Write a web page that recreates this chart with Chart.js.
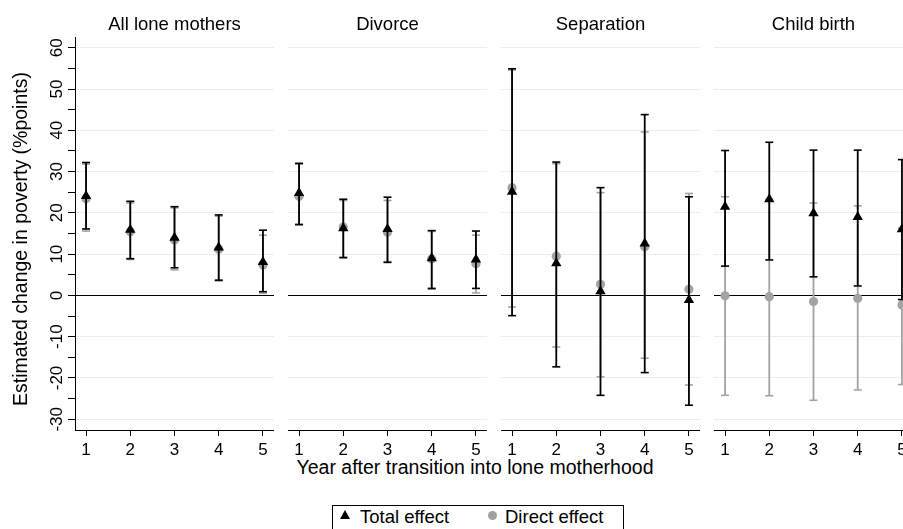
<!DOCTYPE html>
<html>
<head>
<meta charset="utf-8">
<script src="https://cdn.jsdelivr.net/npm/chart.js@4.4.1/dist/chart.umd.min.js"></script>
<style>
    body { margin: 0; width: 903px; height: 529px; overflow: hidden; background: #fff; position: relative;
           font-family: "Liberation Sans", Arial, sans-serif; color: #000; }
    canvas { position: absolute; top: 0; }
    #x-title { position: absolute; left: 225px; width: 500px; top: 457px; text-align: center;
               font-size: 19.5px; line-height: 20px; white-space: nowrap; }
    #legend { position: absolute; left: 332px; top: 505px; width: 290px; height: 40px; border: 1px solid #000; }
    #legend .item { position: absolute; top: 1px; font-size: 18.5px; line-height: 20px; white-space: nowrap; }
    #legend .tri { position: absolute; width: 0; height: 0; border-left: 5.5px solid transparent;
                   border-right: 5.5px solid transparent; border-bottom: 9.5px solid #000; }
    #legend .dot { position: absolute; width: 9px; height: 9px; border-radius: 50%; background: #a0a0a0; }
</style>
</head>
<body>
<div id="x-title">Year after transition into lone motherhood</div>
<div id="legend">
    <div class="tri" style="left:7px;top:4px"></div>
    <div class="item" style="left:27px">Total effect</div>
    <div class="dot" style="left:155px;top:5px"></div>
    <div class="item" style="left:172px">Direct effect</div>
</div>
<script>
// Données
const years = [1, 2, 3, 4, 5];
const panelTitles = ['All lone mothers', 'Divorce', 'Separation', 'Child birth'];
const yLabels = [-30, -20, -10, 0, 10, 20, 30, 40, 50, 60];
const yTickMarks = [-30, -25, -20, -15, -10, -5, 0, 5, 10, 15, 20, 25, 30, 35, 40, 45, 50, 55, 60];
const yTitle = 'Estimated change in poverty (%points)';

// All lone mothers
const allTotal = [24.1, 15.9, 14.0, 11.6, 8.1];
const allTotalLo = [16.1, 8.9, 6.7, 3.7, 0.9];
const allTotalHi = [32.2, 22.8, 21.5, 19.5, 15.8];
const allDirect = [23.4, 15.4, 13.4, 11.2, 7.4];
const allDirectLo = [15.6, 8.7, 6.2, 3.5, 0.5];
const allDirectHi = [31.8, 22.4, 21.2, 19.2, 14.6];

// Divorce
const divTotal = [24.8, 16.3, 16.1, 9.0, 8.7];
const divTotalLo = [17.2, 9.2, 8.0, 1.7, 1.7];
const divTotalHi = [32.0, 23.3, 23.8, 15.7, 15.6];
const divDirect = [24.0, 16.6, 15.3, 8.8, 7.7];
const divDirectLo = [17.0, 9.0, 8.2, 1.5, 0.6];
const divDirectHi = [31.8, 23.0, 23.0, 15.5, 14.6];

// Separation
const sepTotal = [25.1, 7.8, 1.0, 12.6, -1.1];
const sepTotalLo = [-4.9, -17.3, -24.2, -18.7, -26.6];
const sepTotalHi = [54.9, 32.3, 26.1, 43.8, 23.9];
const sepDirect = [26.1, 9.5, 2.7, 11.8, 1.5];
const sepDirectLo = [-2.8, -12.5, -19.7, -15.2, -21.7];
const sepDirectHi = [54.6, 31.9, 24.9, 39.6, 24.7];

// Child birth
const birthTotal = [21.5, 23.3, 19.9, 19.0, 16.0];
const birthTotalLo = [7.1, 8.6, 4.5, 2.3, -1.0];
const birthTotalHi = [35.1, 37.1, 35.2, 35.2, 32.9];
const birthDirect = [-0.1, -0.3, -1.5, -0.7, -2.3];
const birthDirectLo = [-24.2, -24.3, -25.4, -22.9, -21.6];
const birthDirectHi = [23.9, 23.3, 22.4, 21.7, 16.3];

const totals = [allTotal, divTotal, sepTotal, birthTotal];
const totalsLo = [allTotalLo, divTotalLo, sepTotalLo, birthTotalLo];
const totalsHi = [allTotalHi, divTotalHi, sepTotalHi, birthTotalHi];
const directs = [allDirect, divDirect, sepDirect, birthDirect];
const directsLo = [allDirectLo, divDirectLo, sepDirectLo, birthDirectLo];
const directsHi = [allDirectHi, divDirectHi, sepDirectHi, birthDirectHi];

// Mise en page
const FONT = '"Liberation Sans", Arial, sans-serif';
const AXIS_W = 75;
const PANEL_W = 199;
const PANEL_STEP = 213;
const CANVAS_H = 470;
const GRAY = '#a3a3a3';

function pontos(vals) {
    return years.map((x, i) => ({ x: x, y: vals[i] }));
}

function segmentos(lo, hi) {
    const out = [];
    years.forEach((x, i) => {
        out.push({ x: x, y: lo[i] }, { x: x, y: hi[i] }, { x: x, y: null });
    });
    return out;
}

function capas(lo, hi) {
    const out = [];
    years.forEach((x, i) => {
        out.push({ x: x, y: lo[i] }, { x: x, y: hi[i] });
    });
    return out;
}

function corGrade(ctx) {
    const v = ctx.tick ? ctx.tick.value : 1;
    if (v === 0) return '#000';
    if (v % 10 === 0) return '#e6eef0';
    return 'rgba(0,0,0,0)';
}

// Título de cada painel, centrado sobre a área do gráfico
const tituloPainel = {
    id: 'tituloPainel',
    afterDraw(chart, args, opts) {
        const ctx = chart.ctx;
        const area = chart.chartArea;
        ctx.save();
        ctx.fillStyle = '#000';
        ctx.textAlign = 'center';
        ctx.textBaseline = 'alphabetic';
        ctx.font = '18.5px ' + FONT;
        ctx.fillText(opts.text, (area.left + area.right) / 2, 30);
        ctx.restore();
    }
};

// Textos do eixo y (rotacionados, estilo Stata)
const textoEixoY = {
    id: 'textoEixoY',
    afterDraw(chart) {
        const ctx = chart.ctx;
        const y = chart.scales.y;
        ctx.save();
        ctx.fillStyle = '#000';
        ctx.textAlign = 'center';
        ctx.textBaseline = 'alphabetic';
        ctx.font = '17px ' + FONT;
        yLabels.forEach(v => {
            ctx.save();
            ctx.translate(61.5, y.getPixelForValue(v));
            ctx.rotate(-Math.PI / 2);
            ctx.fillText(String(v), 0, 0);
            ctx.restore();
        });
        ctx.font = '19.5px ' + FONT;
        ctx.translate(26.5, 239);
        ctx.rotate(-Math.PI / 2);
        ctx.fillText(yTitle, 0, 0);
        ctx.restore();
    }
};

function criarPainel(p) {
    const first = p === 0;
    const canvas = document.createElement('canvas');
    canvas.width = first ? AXIS_W + PANEL_W : PANEL_W;
    canvas.height = CANVAS_H;
    canvas.style.left = (first ? 0 : AXIS_W + p * PANEL_STEP) + 'px';
    document.body.appendChild(canvas);

    new Chart(canvas, {
        type: 'scatter',
        data: {
            datasets: [
                {
                    label: 'Total effect',
                    data: pontos(totals[p]),
                    pointStyle: 'triangle',
                    pointRadius: 6,
                    backgroundColor: '#000',
                    borderColor: '#000',
                    borderWidth: 0,
                    order: 1
                },
                {
                    data: capas(totalsLo[p], totalsHi[p]),
                    pointStyle: 'line',
                    pointRadius: 4,
                    borderColor: '#000',
                    borderWidth: 1.6,
                    order: 2
                },
                {
                    type: 'line',
                    data: segmentos(totalsLo[p], totalsHi[p]),
                    borderColor: '#000',
                    borderWidth: 1.8,
                    pointRadius: 0,
                    spanGaps: false,
                    order: 3
                },
                {
                    label: 'Direct effect',
                    data: pontos(directs[p]),
                    pointStyle: 'circle',
                    pointRadius: 4.6,
                    backgroundColor: GRAY,
                    borderColor: GRAY,
                    borderWidth: 0,
                    order: 4
                },
                {
                    data: capas(directsLo[p], directsHi[p]),
                    pointStyle: 'line',
                    pointRadius: 4,
                    borderColor: GRAY,
                    borderWidth: 1.6,
                    order: 5
                },
                {
                    type: 'line',
                    data: segmentos(directsLo[p], directsHi[p]),
                    borderColor: GRAY,
                    borderWidth: 1.8,
                    pointRadius: 0,
                    spanGaps: false,
                    order: 6
                }
            ]
        },
        options: {
            responsive: false,
            animation: false,
            events: [],
            layout: { padding: { top: 37 }, autoPadding: false },
            plugins: {
                legend: { display: false },
                tooltip: { enabled: false },
                title: { display: false },
                tituloPainel: { text: panelTitles[p] }
            },
            scales: {
                x: {
                    type: 'linear',
                    min: 0.75,
                    max: 5.25,
                    afterBuildTicks: s => { s.ticks = years.map(v => ({ value: v })); },
                    afterFit: s => { s.height = 40; },
                    grid: { drawOnChartArea: false, drawTicks: true, tickLength: 6, color: '#000', lineWidth: 1 },
                    border: { display: true, color: '#000', width: 1 },
                    ticks: { color: '#000', font: { family: FONT, size: 17 }, padding: 4, maxRotation: 0, autoSkip: false }
                },
                y: {
                    type: 'linear',
                    min: -32.6,
                    max: 62.6,
                    afterBuildTicks: s => { s.ticks = yTickMarks.map(v => ({ value: v })); },
                    afterFit: s => { s.width = first ? AXIS_W : 0; },
                    grid: {
                        color: corGrade,
                        lineWidth: 1,
                        drawTicks: first,
                        tickLength: 7,
                        tickColor: first ? '#000' : 'rgba(0,0,0,0)'
                    },
                    border: { display: first, color: '#000', width: 1 },
                    ticks: { display: false }
                }
            }
        },
        plugins: first ? [tituloPainel, textoEixoY] : [tituloPainel]
    });
}

panelTitles.forEach((t, p) => criarPainel(p));
</script>
</body>
</html>
